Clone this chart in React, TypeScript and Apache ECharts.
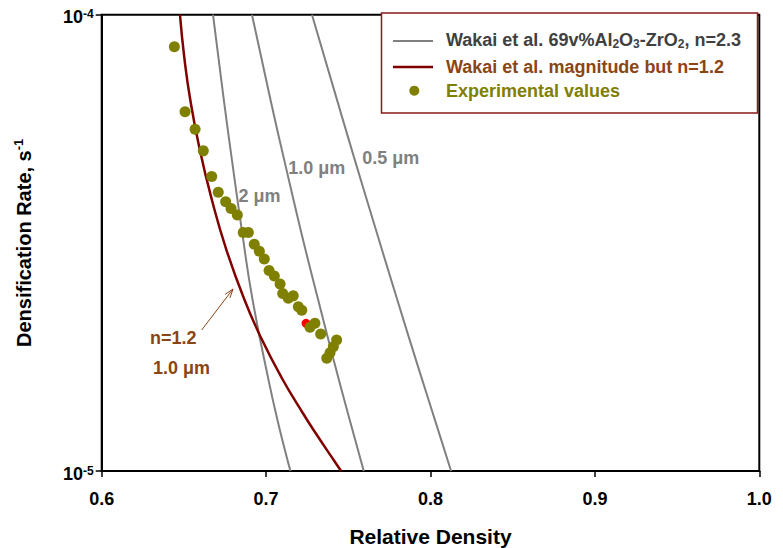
import { useEffect, useRef } from 'react';
import * as echarts from 'echarts';

// ---------- data ----------
const xTickValues = [0.6, 0.7, 0.8, 0.9, 1.0];
const yDecades = [1e-5, 1e-4];

const curveLabels = ['2 μm', '1.0 μm', '0.5 μm'];

// Wakai et al. 69v%Al2O3-ZrO2, n=2.3 — 2 µm
const wakai2umX = [0.6677, 0.6743, 0.6798, 0.6855, 0.6918, 0.7015, 0.7069, 0.713, 0.7148];
const wakai2umY = [1.0e-4, 6.5e-5, 4.64e-5, 3.32e-5, 2.37e-5, 1.582e-5, 1.294e-5, 1.057e-5, 1.0e-5];

// 1.0 µm
const wakai1umX = [0.6914, 0.7027, 0.712, 0.7215, 0.7317, 0.7411, 0.7497, 0.7594];
const wakai1umY = [1.0e-4, 6.5e-5, 4.64e-5, 3.32e-5, 2.37e-5, 1.751e-5, 1.34e-5, 1.0e-5];

// 0.5 µm
const wakai05umX = [0.7279, 0.7401, 0.7534, 0.7655, 0.7804, 0.7931, 0.805, 0.8125];
const wakai05umY = [1.0e-4, 7.09e-5, 4.88e-5, 3.5e-5, 2.334e-5, 1.664e-5, 1.218e-5, 1.0e-5];

// Wakai et al. magnitude but n=1.2 (1.0 µm)
const n12X = [0.6476, 0.6502, 0.6539, 0.6597, 0.667, 0.6759, 0.6869, 0.697, 0.7092, 0.7223, 0.7313, 0.7411, 0.7456];
const n12Y = [1.0e-4, 8.08e-5, 6.5e-5, 5.05e-5, 3.93e-5, 3.05e-5, 2.37e-5, 1.956e-5, 1.607e-5, 1.34e-5, 1.193e-5, 1.057e-5, 1.0e-5];

// Experimental values
const expX = [0.6442, 0.6507, 0.6568, 0.6618, 0.6669, 0.6709, 0.6754, 0.6787, 0.6825, 0.6861,
  0.6892, 0.6928, 0.6959, 0.6989, 0.7018, 0.705, 0.7085, 0.7101, 0.7135, 0.7165,
  0.7196, 0.7217, 0.7267, 0.7297, 0.7332, 0.7429, 0.7409, 0.7389, 0.7369];
const expY = [8.51e-5, 6.13e-5, 5.61e-5, 5.03e-5, 4.42e-5, 4.08e-5, 3.89e-5, 3.76e-5, 3.64e-5, 3.33e-5,
  3.33e-5, 3.14e-5, 3.03e-5, 2.915e-5, 2.75e-5, 2.675e-5, 2.57e-5, 2.45e-5, 2.39e-5, 2.42e-5,
  2.29e-5, 2.25e-5, 2.065e-5, 2.107e-5, 1.996e-5, 1.937e-5, 1.873e-5, 1.816e-5, 1.766e-5];

// single highlighted (red) experimental point
const redX = [0.7243];
const redY = [2.107e-5];

const legendNames = [
  'Wakai et al. 69v%Al{sub|2}O{sub|3}-ZrO{sub|2}, n=2.3',
  'Wakai et al. magnitude but n=1.2',
  'Experimental values',
];
const annotationN = 'n=1.2';
const annotationSize = '1.0 μm';

// ---------- helpers ----------
const zip = (xs: number[], ys: number[]) => xs.map((x, i) => [x, ys[i]]);
const FONT = '"Liberation Sans", Arial, Helvetica, sans-serif';
const GRAY = '#808080';
const DARKRED = '#800000';
const BROWN = '#8B4513';
const OLIVE = '#808000';

function boldText(x: number, y: number, text: string, fill: string, size = 18, extra: any = {}) {
  return {
    type: 'text',
    z: 110,
    style: {
      x, y, text, fill,
      fontFamily: FONT, fontSize: size, fontWeight: 'bold',
      align: 'left', verticalAlign: 'middle',
      textAlign: 'left', textVerticalAlign: 'middle',
      ...extra,
    },
  };
}

export default function App() {
  const ref = useRef<HTMLDivElement>(null);

  useEffect(() => {
    if (!ref.current) return;
    const chart = echarts.init(ref.current, null, { renderer: 'svg' });

    const grayLine = (name: string, xs: number[], ys: number[]) => ({
      name,
      type: 'line',
      data: zip(xs, ys),
      symbol: 'none',
      smooth: 0.5,
      clip: true,
      lineStyle: { color: GRAY, width: 2 },
      z: 2,
    });

    // arrow geometry
    const tail = [201.7, 330];
    const head = [233, 289];
    const dx = head[0] - tail[0];
    const dy = head[1] - tail[1];
    const len = Math.sqrt(dx * dx + dy * dy);
    const ux = dx / len, uy = dy / len;
    const px = -uy, py = ux;
    const ah = 9, aw = 3;
    const wing1 = [head[0] - ah * ux + aw * px, head[1] - ah * uy + aw * py];
    const wing2 = [head[0] - ah * ux - aw * px, head[1] - ah * uy - aw * py];

    const option: any = {
      animation: false,
      backgroundColor: '#fff',
      textStyle: { fontFamily: FONT },
      grid: {
        left: 101.7, right: 23.7, top: 14.7, bottom: 77,
        show: true, borderColor: '#000', borderWidth: 2,
        outerBoundsMode: 'none',
      },
      xAxis: {
        type: 'value',
        min: xTickValues[0],
        max: xTickValues[xTickValues.length - 1],
        interval: 0.1,
        name: 'Relative Density',
        nameLocation: 'middle',
        nameGap: 55,
        nameTextStyle: { fontFamily: FONT, fontSize: 21, fontWeight: 'bold', color: '#000' },
        axisLine: { show: true, onZero: false, lineStyle: { color: '#000', width: 2 } },
        axisTick: { show: true, inside: false, length: 6, lineStyle: { color: '#000', width: 1.5 } },
        axisLabel: {
          margin: 19, fontFamily: FONT, fontSize: 18, fontWeight: 'bold', color: '#000',
          formatter: (v: number) => v.toFixed(1),
        },
        splitLine: { show: false },
      },
      yAxis: {
        type: 'log',
        logBase: 10,
        min: yDecades[0],
        max: yDecades[yDecades.length - 1],
        name: '{a|Densification Rate, s}{b|-1}',
        nameLocation: 'middle',
        nameGap: 66,
        nameTextStyle: {
          color: '#000',
          rich: {
            a: { fontFamily: FONT, fontSize: 20, fontWeight: 'bold', color: '#000', lineHeight: 24 },
            b: { fontFamily: FONT, fontSize: 13, fontWeight: 'bold', color: '#000', lineHeight: 13, verticalAlign: 'top' },
          },
        },
        axisLine: { show: true, onZero: false, lineStyle: { color: '#000', width: 2 } },
        axisTick: { show: true, inside: false, length: 6, lineStyle: { color: '#000', width: 1.5 } },
        minorTick: { show: false },
        axisLabel: {
          margin: 8,
          padding: [5, 0, 0, 0],
          formatter: (v: number) => `{b|10}{s|${Math.round(Math.log10(v))}}`,
          rich: {
            b: { fontFamily: FONT, fontSize: 18, fontWeight: 'bold', color: '#000', lineHeight: 18 },
            s: { fontFamily: FONT, fontSize: 12, fontWeight: 'bold', color: '#000', lineHeight: 12, verticalAlign: 'top' },
          },
        },
        splitLine: { show: false },
        minorSplitLine: { show: false },
      },
      series: [
        grayLine(curveLabels[0], wakai2umX, wakai2umY),
        grayLine(curveLabels[1], wakai1umX, wakai1umY),
        grayLine(curveLabels[2], wakai05umX, wakai05umY),
        {
          name: 'n=1.2',
          type: 'line',
          data: zip(n12X, n12Y),
          symbol: 'none',
          smooth: 0.5,
          clip: true,
          lineStyle: { color: DARKRED, width: 2.5 },
          z: 3,
        },
        {
          name: 'red point',
          type: 'scatter',
          data: zip(redX, redY),
          symbolSize: 9,
          itemStyle: { color: '#FF0000', opacity: 1 },
          z: 4,
        },
        {
          name: 'Experimental values',
          type: 'scatter',
          data: zip(expX, expY),
          symbolSize: 11,
          itemStyle: { color: OLIVE, opacity: 1 },
          z: 5,
        },
      ],
      graphic: [
        // legend box
        {
          type: 'rect', z: 100,
          shape: { x: 381.5, y: 13, width: 376, height: 100 },
          style: { fill: '#fff', stroke: '#8B1A1A', lineWidth: 1.5 },
        },
        { type: 'line', z: 110, shape: { x1: 393, y1: 41, x2: 433, y2: 41 }, style: { stroke: GRAY, lineWidth: 2 } },
        {
          type: 'text', z: 110,
          style: {
            x: 446, y: 40, text: legendNames[0], fill: '#404040',
            fontFamily: FONT, fontSize: 18, fontWeight: 'bold', lineHeight: 20,
            align: 'left', verticalAlign: 'middle', textAlign: 'left', textVerticalAlign: 'middle',
            rich: {
              sub: { fontFamily: FONT, fontSize: 12, fontWeight: 'bold', fill: '#404040', lineHeight: 12, verticalAlign: 'bottom' },
            },
          },
        },
        { type: 'line', z: 110, shape: { x1: 393, y1: 67, x2: 433, y2: 67 }, style: { stroke: DARKRED, lineWidth: 2.5 } },
        boldText(446, 66.7, legendNames[1], BROWN),
        { type: 'circle', z: 110, shape: { cx: 414.3, cy: 90.7, r: 5 }, style: { fill: OLIVE } },
        boldText(446, 90.7, legendNames[2], OLIVE),
        // curve labels
        boldText(238.5, 195.5, curveLabels[0], GRAY),
        boldText(288.3, 168, curveLabels[1], GRAY),
        boldText(362.3, 157.5, curveLabels[2], GRAY),
        // n=1.2 annotation
        boldText(150, 338, annotationN, BROWN),
        boldText(153, 368, annotationSize, BROWN),
        {
          type: 'line', z: 110,
          shape: { x1: tail[0], y1: tail[1], x2: head[0], y2: head[1] },
          style: { stroke: BROWN, lineWidth: 1 },
        },
        {
          type: 'polyline', z: 110,
          shape: { points: [wing1, head, wing2] },
          style: { stroke: BROWN, lineWidth: 1, fill: 'none' },
        },
      ],
    };

    chart.setOption(option);
    return () => chart.dispose();
  }, []);

  return (
    <div
      ref={ref}
      style={{ position: 'fixed', left: 0, top: 0, width: 783, height: 548, background: '#fff' }}
    />
  );
}
